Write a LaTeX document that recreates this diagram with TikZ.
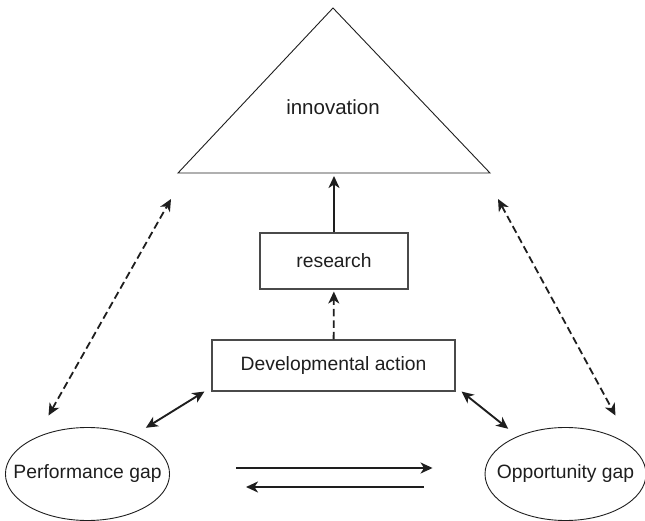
\documentclass[tikz,border=0pt]{standalone}
\usepackage{fontspec}
\setmainfont{Liberation Sans}
\usetikzlibrary{arrows.meta,shapes.geometric}
\definecolor{InkDark}{HTML}{1E1E1E}
\definecolor{EdgeGray}{HTML}{4A4A4A}
\tikzset{
  stagebox/.style={draw=EdgeGray,line width=1.1pt,inner sep=0pt,text=InkDark,font=\fontsize{19.3}{23}\selectfont},
  gapnode/.style={draw=InkDark,ellipse,line width=0.9pt,minimum width=161pt,minimum height=93pt,inner xsep=-16pt,inner ysep=0pt,text=InkDark,font=\fontsize{19.3}{23}\selectfont},
  solidlink/.style={{Stealth[length=12pt,width=11pt,inset=3.5pt]}-{Stealth[length=12pt,width=11pt,inset=3.5pt]},line width=1.9pt,draw=InkDark},
  solidarrow/.style={-{Stealth[length=12pt,width=11pt,inset=3.5pt]},line width=1.9pt,draw=InkDark},
  dashlink/.style={{Stealth[length=12pt,width=11pt,inset=3.5pt]}-{Stealth[length=12pt,width=11pt,inset=3.5pt]},line width=1.8pt,draw=InkDark,dash pattern=on 7.5pt off 4pt},
  dasharrow/.style={-{Stealth[length=12pt,width=11pt,inset=3.5pt]},line width=1.8pt,draw=InkDark,dash pattern=on 7.5pt off 4pt}
}
\begin{document}
\begin{tikzpicture}[x=1pt,y=-1pt]
\useasboundingbox (0,0) rectangle (645,521);
% triangle
\coordinate (apex) at (333,8);
\coordinate (bl) at (178,173);
\coordinate (br) at (490,173);
\draw[draw=InkDark,line width=0.9pt] (apex) -- (br) -- (bl) -- cycle;
\node[text=InkDark,font=\fontsize{20.5}{24}\selectfont] (innov) at (333,107) {innovation};
\coordinate (innovL) at (171,199);
\coordinate (innovR) at (498,199);
% boxes
\node[stagebox,minimum width=148pt,minimum height=56pt] (research) at (334,261) {research};
\node[stagebox,minimum width=243pt,minimum height=51pt] (dev) at (333.5,365.5) {Developmental action};
\node[gapnode] (perf) at (87.5,474) {Performance gap};
\node[gapnode] (opp) at (565.5,474) {Opportunity gap};
% connectors
\draw[solidarrow,shorten >=3pt] (research) -- (research |- bl);
\draw[dasharrow,shorten >=2pt] (dev) -- (research);
\draw[solidlink] ([yshift=13pt]perf.north east) -- ([xshift=-7pt]dev.south west);
\draw[solidlink] ([xshift=6pt]dev.south east) -- ([yshift=12pt]opp.north west);
\draw[dashlink] ([xshift=-39pt,yshift=11.5pt]perf.north) -- (innovL);
\draw[dashlink] (innovR) -- ([xshift=50pt,yshift=11.5pt]opp.north);
\draw[solidarrow,shorten <=66pt,shorten >=52pt] ([yshift=6pt]perf.east) -- ([yshift=6pt]opp.west);
\draw[solidarrow,shorten <=61pt,shorten >=76pt] ([yshift=-13pt]opp.west) -- ([yshift=-13pt]perf.east);
\end{tikzpicture}
\end{document}
